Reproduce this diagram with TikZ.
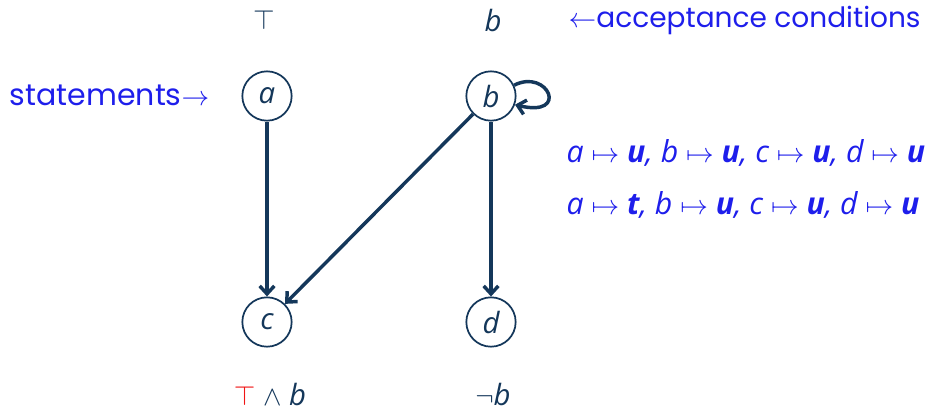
\documentclass[tikz,border=0pt]{standalone}
\usepackage{fontspec}
\setmainfont{Open Sans}
\newfontfamily\handfont{Poppins}
\usetikzlibrary{arrows.meta}
\definecolor{nodeblue}{RGB}{20,55,90}
\definecolor{txtblue}{RGB}{30,30,235}
\definecolor{topred}{RGB}{240,20,20}
\tikzset{
  stnode/.style={circle,draw=nodeblue,line width=1.3pt,minimum size=37pt,inner sep=0pt,text=nodeblue,font=\fontsize{22}{26}\selectfont\itshape},
  edgeline/.style={draw=nodeblue,line width=2.6pt,-{Straight Barb[length=6pt,width=11pt,line width=2.6pt]}},
  acc/.style={text=nodeblue,font=\fontsize{22}{26}\selectfont\itshape},
  hand/.style={text=txtblue,font=\fontsize{21}{24}\selectfont\handfont},
  maps/.style={text=txtblue,font=\fontsize{22.7}{26}\selectfont\itshape,anchor=west}
}
\begin{document}
\begin{tikzpicture}[x=0.75pt,y=-0.75pt]
\useasboundingbox (0,0) rectangle (933,412);
\node[stnode] (a) at (267,96) {a};
\node[stnode] (b) at (491,96) {b};
\node[stnode] (c) at (267,322) {c};
\node[stnode] (d) at (491,322) {d};
\draw[edgeline] (a) -- (c);
\draw[edgeline] (b) -- (c);
\draw[edgeline] (b) -- (d);
\draw[edgeline] (b.25) .. controls (548,68) and (570,118) .. (b.-20);
\node[acc] (ta) at (264,20) {$\top$};
\node[acc] (tb) at (493,20) {b};
\node[hand,anchor=west] (accl) at (564,20) {$\leftarrow$acceptance conditions};
\node[hand,anchor=east,font=\fontsize{22.5}{26}\selectfont\handfont] (stl) at (214,95) {statements$\rightarrow$};
\node[maps] (m1) at (562,153) {a $\mapsto$ \textbf{u}, b $\mapsto$ \textbf{u}, c $\mapsto$ \textbf{u}, d $\mapsto$ \textbf{u}};
\node[maps] (m2) at (562,205) {a $\mapsto$ \textbf{t}, b $\mapsto$ \textbf{u}, c $\mapsto$ \textbf{u}, d $\mapsto$ \textbf{u}};
\node[acc] (lc) at (270,394) {\textcolor{topred}{$\top$} $\wedge$ b};
\node[acc] (ld) at (493,394) {$\neg$b};
\end{tikzpicture}
\end{document}
